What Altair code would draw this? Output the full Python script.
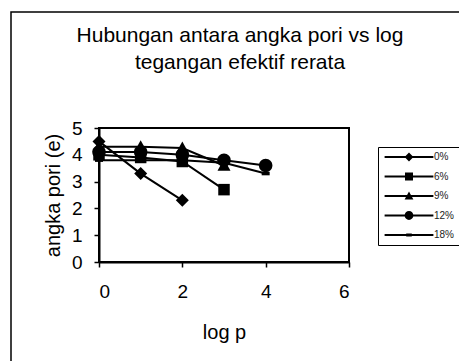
import altair as alt
import pandas as pd

# ---- data ----
series = ["0%", "6%", "9%", "12%", "18%"]
log_p_0 = [0, 1, 2]
e_0 = [4.5, 3.3, 2.3]
log_p_6 = [0, 1, 2, 3]
e_6 = [4.0, 3.9, 3.75, 2.7]
log_p_9 = [0, 1, 2, 3]
e_9 = [4.3, 4.3, 4.25, 3.6]
log_p_12 = [0, 1, 2, 3, 4]
e_12 = [4.1, 4.1, 4.0, 3.8, 3.6]
log_p_18 = [0, 1, 2, 3, 4]
e_18 = [3.8, 3.8, 3.8, 3.7, 3.3]

x_ticks = [0, 2, 4, 6]
y_ticks = [0, 1, 2, 3, 4, 5]
title_lines = ["Hubungan antara angka pori vs log", "tegangan efektif rerata"]
x_title = "log p"
y_title = "angka pori (e)"

rows = []
for name, xs, ys in zip(series, [log_p_0, log_p_6, log_p_9, log_p_12, log_p_18],
                        [e_0, e_6, e_9, e_12, e_18]):
    for xv, yv in zip(xs, ys):
        rows.append({"series": name, "log_p": xv, "e": yv})
df = pd.DataFrame(rows)

FONT = "Liberation Sans"

# marker shapes for the plot
diamond = "M0,-1.3L1.3,0L0,1.3L-1.3,0Z"
square = "M-1.15,-1.15H1.15V1.15H-1.15Z"
triangle = "M0,-1.3L1.3,1.05H-1.3Z"
circle = "M-1.35,0A1.35,1.35,0,1,1,1.35,0A1.35,1.35,0,1,1,-1.35,0Z"
dash = "M-0.8,-0.35H0.8V0.35H-0.8Z"

# legend symbols: line segment (thin filled bar) plus marker, all clockwise
L = "M-6.1,-0.25H6.1V0.25H-6.1Z"
lg_diamond = L + "M0,-1.1L1.1,0L0,1.1L-1.1,0Z"
lg_square = L + "M-1,-1H1V1H-1Z"
lg_triangle = L + "M0,-1.1L1.1,0.9H-1.1Z"
lg_circle = L + "M-1.1,0A1.1,1.1,0,1,1,1.1,0A1.1,1.1,0,1,1,-1.1,0Z"
lg_dash = L + "M-0.7,-0.4H0.7V0.4H-0.7Z"

x_enc = alt.X("log_p:Q", scale=alt.Scale(domain=[0, 6], nice=False),
              axis=alt.Axis(values=x_ticks, title=x_title, titlePadding=21, labelPadding=15))
y_enc = alt.Y("e:Q", scale=alt.Scale(domain=[0, 5], nice=False),
              axis=alt.Axis(values=y_ticks, title=y_title, titlePadding=8, labelPadding=12))

frame = alt.Chart(pd.DataFrame({"k": [0]})).mark_rect(
    fill="white", fillOpacity=0, stroke="black", strokeWidth=1.5
).encode(x=alt.value(-88), x2=alt.value(380), y=alt.value(-116), y2=alt.value(260))

lines = alt.Chart(df).mark_line(color="black", strokeWidth=2).encode(
    x=x_enc, y=y_enc, detail="series:N"
)

points = alt.Chart(df).mark_point(filled=True, color="black", opacity=1, size=100).encode(
    x=x_enc, y=y_enc,
    shape=alt.Shape("series:N", scale=alt.Scale(domain=series,
                    range=[diamond, square, triangle, circle, dash]), legend=None),
)

legend_layer = alt.Chart(df).transform_filter("false").mark_point(
    filled=True, color="black", opacity=1
).encode(
    x=x_enc, y=y_enc,
    shape=alt.Shape("series:N", scale=alt.Scale(domain=series,
                    range=[lg_diamond, lg_square, lg_triangle, lg_circle, lg_dash]),
                    legend=alt.Legend(title=None, orient="none", legendX=279, legendY=19,
                                      symbolSize=64, symbolFillColor="black",
                                      symbolStrokeWidth=0,
                                      symbolOffset=21, labelOffset=20,
                                      labelFont=FONT, labelFontSize=10, labelColor="#222",
                                      padding=5, rowPadding=9.5,
                                      strokeColor="black", fillColor="white",
                                      cornerRadius=0)),
)

chart = alt.layer(frame, lines, points, legend_layer).resolve_scale(
    shape="independent"
).properties(
    width=250, height=134,
    background="white",
    autosize=alt.AutoSizeParams(type="none"),
    padding={"left": 99, "top": 128, "right": 110, "bottom": 99},
    title=alt.Title(title_lines, font=FONT, fontSize=21, fontWeight="normal",
                    color="black", anchor="middle", frame="group", dx=16, offset=-62,
                    lineHeight=27),
).configure_view(
    stroke="black", strokeWidth=2
).configure_axis(
    grid=False, domainColor="black", domainWidth=2, tickColor="black", tickWidth=1.5,
    tickSize=5, labelFont=FONT, labelFontSize=19, labelColor="black",
    titleFont=FONT, titleFontSize=20, titleFontWeight="normal", titleColor="black"
)

chart.save("out.html", embed_options={"renderer": "svg", "actions": False})
